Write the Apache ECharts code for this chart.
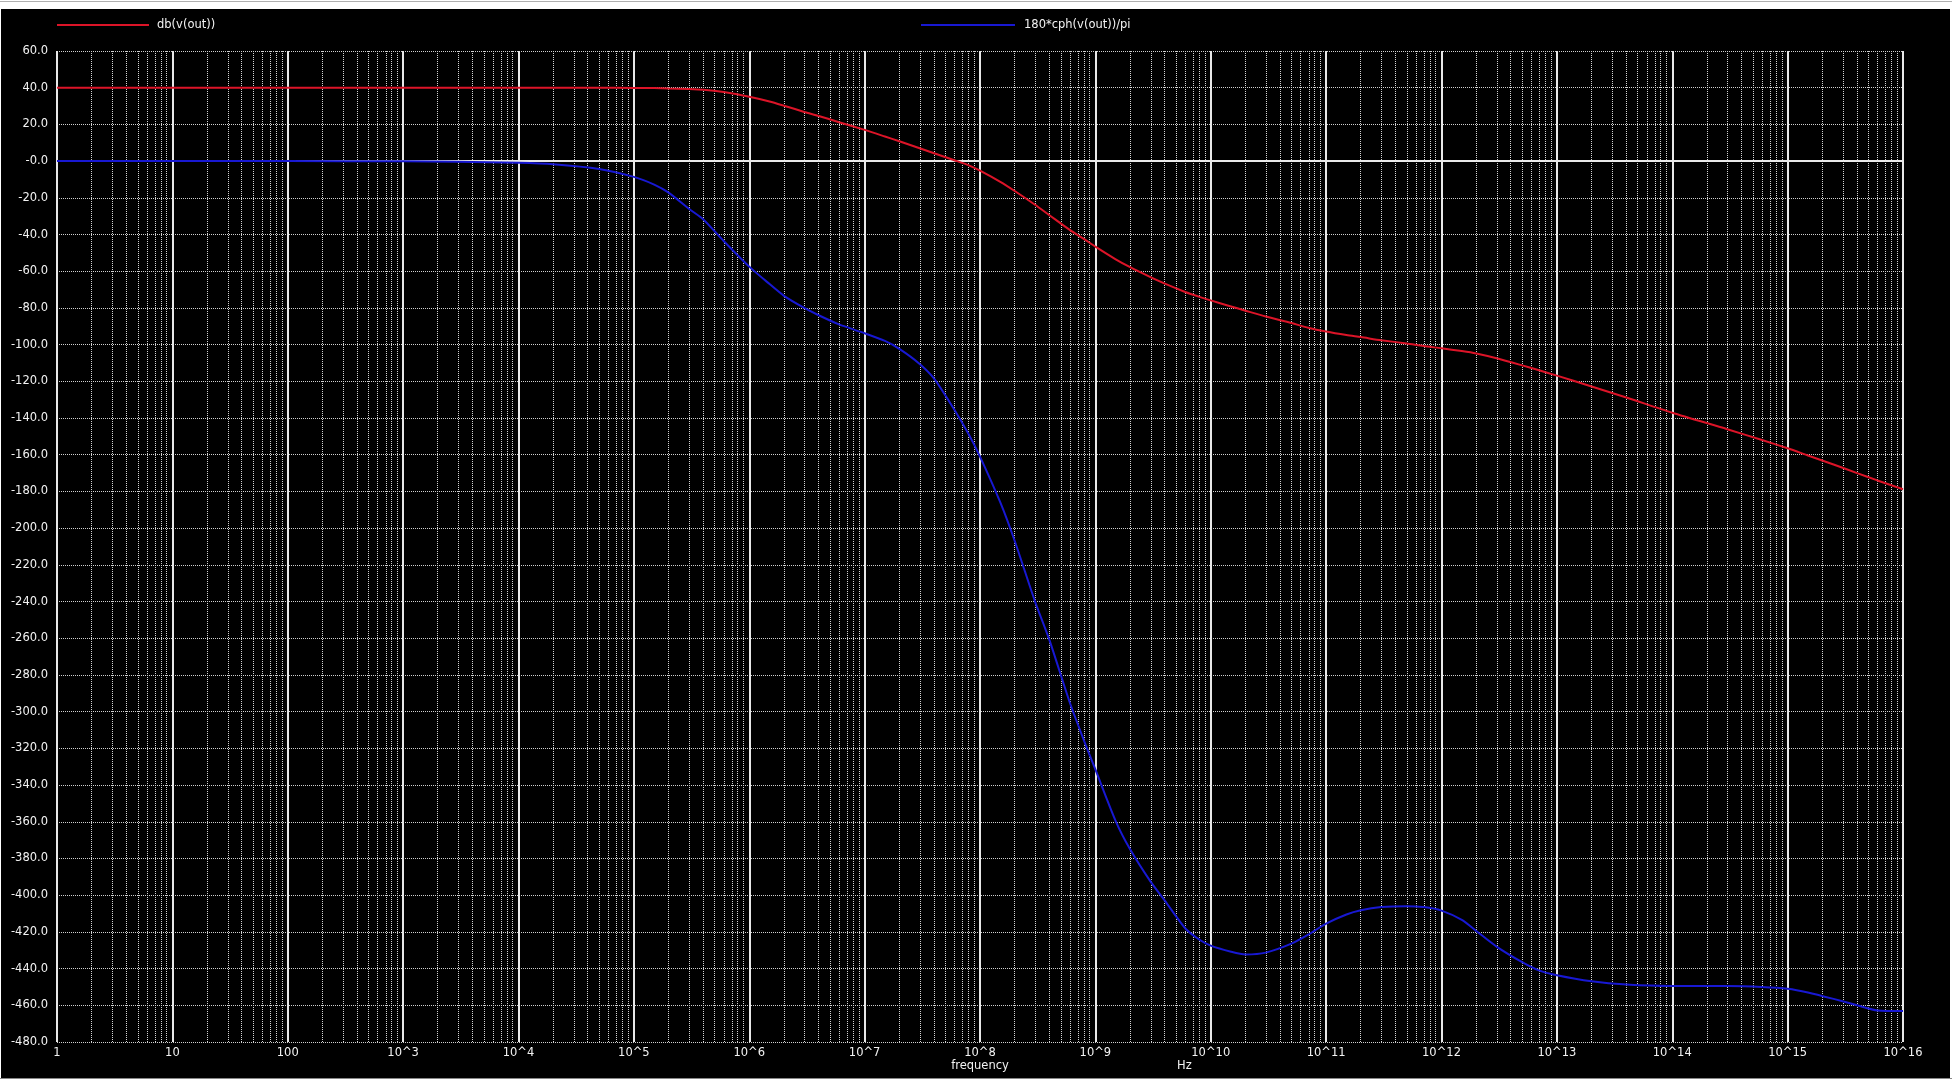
<!DOCTYPE html>
<html>
<head>
<meta charset="utf-8">
<script src="https://cdn.jsdelivr.net/npm/echarts@6/dist/echarts.min.js"></script>
<style>
  html, body { margin: 0; padding: 0; background: #ffffff; width: 1952px; height: 1083px; overflow: hidden; }
  #topline { position: absolute; left: 0; top: 1px; width: 1952px; height: 1px; background: #b0b0b0; }
  #chart { position: absolute; left: 1px; top: 9px; width: 1949px; height: 1069px; background: #000; }
  #botline { position: absolute; left: 0; top: 1078px; width: 1952px; height: 1px; background: #888; }
</style>
</head>
<body>
<div id="topline"></div>
<div id="chart"></div>
<div id="botline"></div>
<script>
// Frequencies (Hz)
const freqHz = [1, 10, 100, 1e3, 3e3, 1e4, 2e4, 5e4,
  1e5, 1.5e5, 2e5, 3e5, 4e5, 6e5,
  1e6, 1.5e6, 2e6, 3e6, 4e6, 6e6,
  1e7, 1.5e7, 2e7, 3e7, 4e7, 6e7, 8e7,
  1e8, 1.5e8, 2e8, 3e8, 4e8, 6e8, 8e8,
  1e9, 1.5e9, 2e9, 3e9, 4e9, 6e9, 8e9,
  1e10, 1.5e10, 2e10, 3e10, 5e10, 7e10,
  1e11, 1.5e11, 2e11, 3e11, 5e11, 7e11,
  1e12, 1.5e12, 2e12, 3e12, 5e12, 7e12,
  1e13, 2e13, 4e13,
  1e14, 3e14, 6e14,
  1e15, 1.5e15, 2.5e15, 4e15, 6e15,
  1e16];

// db(v(out))
const magDb = [40, 40, 40, 40, 40, 40, 40, 40,
  39.9, 39.8, 39.6, 39.3, 38.9, 37.6,
  35.1, 32.5, 30.2, 26.8, 24.6, 21.2,
  17, 13.4, 10.8, 7.0, 4.3, 0.5, -2.3,
  -5.2, -11.3, -16.3, -23.8, -29.5, -37.5, -42.5,
  -46.6, -53.5, -57.8, -63.2, -66.8, -71.3, -74,
  -75.9, -79.2, -81.5, -84.7, -88.2, -90.8,
  -92.9, -94.8, -95.9, -97.6, -99.4, -100.8,
  -102, -103.5, -104.8, -107.4, -111.3, -114,
  -116.9, -122.8, -128.8,
  -137.1, -146.1, -152,
  -156.5, -160.4, -165.3, -170, -174,
  -178.8];

// 180*cph(v(out))/pi
const phaseDeg = [0, 0, 0, -0.1, -0.3, -0.9, -1.7, -4.3,
  -8.6, -12.8, -17.2, -26, -31.8, -43.5,
  -57.5, -67, -73.4, -80, -84, -89,
  -93.8, -98.0, -102.3, -110.5, -118.5, -135.5, -149,
  -161, -186, -207, -240, -261, -295, -316,
  -331.5, -359.6, -375, -392.5, -403, -418, -424.3,
  -427.5, -430.8, -432.3, -431.3, -426.4, -421.5,
  -415.5, -410.5, -408.2, -406.5, -406, -406.5,
  -408.4, -413.5, -419.5, -428, -436.5, -441,
  -443.6, -446.9, -448.7,
  -449.5, -449.5, -450,
  -451, -453, -456.5, -460, -462.8,
  -463.1];

const seriesNames = ['db(v(out))', '180*cph(v(out))/pi'];
const xAxisTitle = 'frequency';
const xUnit = 'Hz';
const decadeMin = 0, decadeMax = 16;   // x axis: 1 Hz .. 10^16 Hz
const yMin = -480, yMax = 60, yStep = 20;
const minorMultipliers = [2, 3, 4, 5, 6, 7, 8, 9];

// x positions in decades (log10 of frequency), drawn on a linear axis of exponents
const magData = freqHz.map((f, i) => [Math.log10(f), magDb[i]]);
const phaseData = freqHz.map((f, i) => [Math.log10(f), phaseDeg[i]]);

const minorLines = [];
for (let n = decadeMin; n < decadeMax; n++) {
  minorMultipliers.forEach(k => minorLines.push({ xAxis: n + Math.log10(k) }));
}

const FONT = 'DejaVu Sans';
const TXT = '#f2f2f2';
const chart = echarts.init(document.getElementById('chart'), null, { renderer: 'canvas' });

const legendBase = {
  top: 10, padding: 0, itemWidth: 92, itemHeight: 2, itemGap: 0, icon: 'rect',
  textStyle: { color: TXT, fontFamily: FONT, fontSize: 11.5, padding: [0, 0, 0, 3] },
  selectedMode: false
};

chart.setOption({
  backgroundColor: '#000000',
  animation: false,
  grid: { left: 56, top: 42, right: 47, bottom: 36, containLabel: false, outerBoundsMode: 'none' },
  legend: [
    Object.assign({}, legendBase, { data: [seriesNames[0]], left: 56 }),
    Object.assign({}, legendBase, { data: [seriesNames[1]], left: 920, itemWidth: 94,
      textStyle: Object.assign({}, legendBase.textStyle, { padding: [0, 0, 0, 4] }) })
  ],
  xAxis: {
    type: 'value', min: decadeMin, max: decadeMax, interval: 1,
    axisLine: { show: false }, axisTick: { show: false },
    axisLabel: {
      color: TXT, fontFamily: FONT, fontSize: 11.5, margin: 5,
      formatter: v => v === 0 ? '1' : v === 1 ? '10' : v === 2 ? '100' : '10^' + v
    },
    splitLine: { show: true, lineStyle: { color: '#e8e8e8', width: 2, type: 'solid' } }
  },
  yAxis: {
    type: 'value', min: yMin, max: yMax, interval: yStep,
    axisLine: { show: false }, axisTick: { show: false },
    axisLabel: {
      color: TXT, fontFamily: FONT, fontSize: 11.5, margin: 9,
      formatter: v => v === 0 ? '-0.0' : v.toFixed(1)
    },
    splitLine: { show: true, lineStyle: { color: '#d0d0d0', width: 1, type: [1, 1] } }
  },
  graphic: [
    { type: 'text', x: 979, y: 1051, silent: true,
      style: { text: xAxisTitle, fill: TXT, font: '11.5px "DejaVu Sans"', align: 'center' } },
    { type: 'text', x: 1176, y: 1051, silent: true,
      style: { text: xUnit, fill: TXT, font: '11.5px "DejaVu Sans"' } }
  ],
  series: [
    {
      name: 'grid-minor', type: 'line', data: [], silent: true, z: 1,
      markLine: {
        silent: true, symbol: ['none', 'none'], z: 1,
        label: { show: false },
        lineStyle: { color: '#d4d4d4', width: 1, type: [1, 1] },
        emphasis: { disabled: true },
        data: minorLines.concat([{ yAxis: 0, lineStyle: { color: '#e8e8e8', width: 2, type: 'solid' } }])
      }
    },
    {
      name: seriesNames[0], type: 'line', data: magData, showSymbol: false, symbol: 'none',
      smooth: 0.25, z: 3,
      lineStyle: { color: '#dc1428', width: 2 }, itemStyle: { color: '#dc1428' }
    },
    {
      name: seriesNames[1], type: 'line', data: phaseData, showSymbol: false, symbol: 'none',
      smooth: 0.25, z: 3,
      lineStyle: { color: '#1818d2', width: 2 }, itemStyle: { color: '#1818d2' }
    }
  ]
});
</script>
</body>
</html>
